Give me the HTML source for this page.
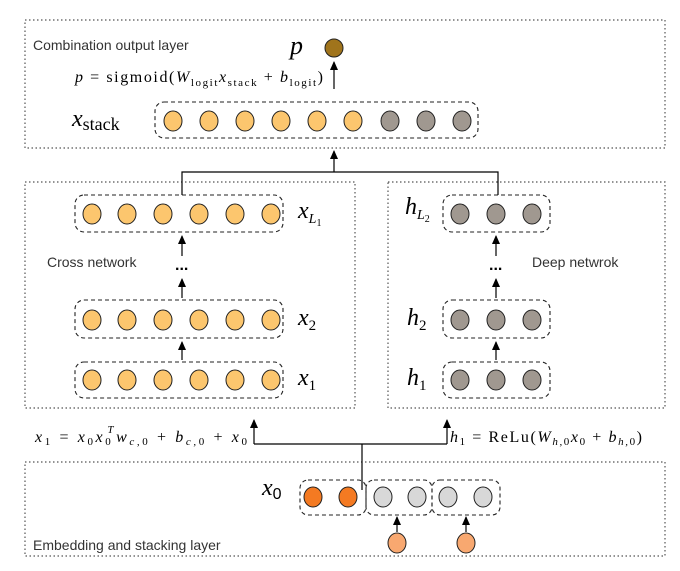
<!DOCTYPE html>
<html><head><meta charset="utf-8"><style>
body{margin:0;background:#fff;}
svg text{font-family:"Liberation Sans",sans-serif;}
.m{font-family:"Liberation Serif",serif;font-style:italic;}
.r{font-family:"Liberation Serif",serif;}
</style></head><body>
<svg width="680" height="566" viewBox="0 0 680 566" xmlns="http://www.w3.org/2000/svg">
<defs><marker id="a" markerWidth="9" markerHeight="8" refX="8" refY="4" orient="auto" markerUnits="userSpaceOnUse"><path d="M0,0 L9,4 L0,8 Z" fill="#000"/></marker></defs>
<g fill="none" stroke="#555" stroke-width="1.2" stroke-dasharray="1.5,2.5">
<rect x="25" y="20" width="640" height="128"/>
<rect x="25" y="182" width="330" height="226"/>
<rect x="388" y="182" width="277" height="226"/>
<rect x="25" y="462" width="640" height="94"/>
</g>
<g fill="none" stroke="#222" stroke-width="1.1" stroke-dasharray="4,3">
<rect x="155" y="102" width="323" height="36" rx="9"/>
<rect x="75" y="195" width="208" height="37" rx="9"/>
<rect x="75" y="300" width="208" height="38" rx="9"/>
<rect x="75" y="362" width="208" height="36" rx="9"/>
<rect x="443" y="195" width="107" height="37" rx="9"/>
<rect x="443" y="300" width="107" height="38" rx="9"/>
<rect x="443" y="362" width="107" height="36" rx="9"/>
<rect x="300" y="480" width="66" height="35" rx="8"/>
<rect x="366" y="480" width="66" height="35" rx="8"/>
<rect x="432" y="480" width="68" height="35" rx="8"/>
</g>
<g stroke="#222" stroke-width="1">
<circle cx="334" cy="48" r="9" fill="#a0741c"/>
<g fill="#fcc66e"><ellipse cx="173" cy="121" rx="9" ry="10"/><ellipse cx="209" cy="121" rx="9" ry="10"/><ellipse cx="245" cy="121" rx="9" ry="10"/><ellipse cx="281" cy="121" rx="9" ry="10"/><ellipse cx="317" cy="121" rx="9" ry="10"/><ellipse cx="353" cy="121" rx="9" ry="10"/></g>
<g fill="#a09890"><ellipse cx="390" cy="121" rx="9" ry="10"/><ellipse cx="426" cy="121" rx="9" ry="10"/><ellipse cx="462" cy="121" rx="9" ry="10"/></g>
<g fill="#fcc66e">
<ellipse cx="92" cy="214" rx="9" ry="10"/><ellipse cx="127" cy="214" rx="9" ry="10"/><ellipse cx="163" cy="214" rx="9" ry="10"/><ellipse cx="199" cy="214" rx="9" ry="10"/><ellipse cx="235" cy="214" rx="9" ry="10"/><ellipse cx="271" cy="214" rx="9" ry="10"/>
<ellipse cx="92" cy="320" rx="9" ry="10"/><ellipse cx="127" cy="320" rx="9" ry="10"/><ellipse cx="163" cy="320" rx="9" ry="10"/><ellipse cx="199" cy="320" rx="9" ry="10"/><ellipse cx="235" cy="320" rx="9" ry="10"/><ellipse cx="271" cy="320" rx="9" ry="10"/>
<ellipse cx="92" cy="380" rx="9" ry="10"/><ellipse cx="127" cy="380" rx="9" ry="10"/><ellipse cx="163" cy="380" rx="9" ry="10"/><ellipse cx="199" cy="380" rx="9" ry="10"/><ellipse cx="235" cy="380" rx="9" ry="10"/><ellipse cx="271" cy="380" rx="9" ry="10"/>
</g>
<g fill="#a09890">
<ellipse cx="460" cy="214" rx="9" ry="10"/><ellipse cx="496" cy="214" rx="9" ry="10"/><ellipse cx="532" cy="214" rx="9" ry="10"/>
<ellipse cx="460" cy="320" rx="9" ry="10"/><ellipse cx="496" cy="320" rx="9" ry="10"/><ellipse cx="532" cy="320" rx="9" ry="10"/>
<ellipse cx="460" cy="380" rx="9" ry="10"/><ellipse cx="496" cy="380" rx="9" ry="10"/><ellipse cx="532" cy="380" rx="9" ry="10"/>
</g>
<g fill="#f47a22"><ellipse cx="313" cy="497" rx="9" ry="10"/><ellipse cx="348" cy="497" rx="9" ry="10"/></g>
<g fill="#d8d8d8"><ellipse cx="383" cy="497" rx="9" ry="10"/><ellipse cx="417" cy="497" rx="9" ry="10"/><ellipse cx="448" cy="497" rx="9" ry="10"/><ellipse cx="483" cy="497" rx="9" ry="10"/></g>
<g fill="#f8a870"><ellipse cx="397" cy="543" rx="9" ry="10"/><ellipse cx="466" cy="543" rx="9" ry="10"/></g>
</g>
<g stroke="#000" stroke-width="1.2" fill="none">
<line x1="334" y1="89" x2="334" y2="62" marker-end="url(#a)"/>
<line x1="334" y1="172" x2="334" y2="151" marker-end="url(#a)"/>
<polyline points="182,195 182,172 498,172 498,195"/>
<line x1="182" y1="256" x2="182" y2="236" marker-end="url(#a)"/>
<line x1="182" y1="298" x2="182" y2="279" marker-end="url(#a)"/>
<line x1="182" y1="360" x2="182" y2="342" marker-end="url(#a)"/>
<line x1="496" y1="256" x2="496" y2="236" marker-end="url(#a)"/>
<line x1="496" y1="298" x2="496" y2="279" marker-end="url(#a)"/>
<line x1="496" y1="360" x2="496" y2="342" marker-end="url(#a)"/>
<polyline points="254,444 447,444"/>
<line x1="254" y1="444" x2="254" y2="420" marker-end="url(#a)"/>
<line x1="447" y1="444" x2="447" y2="420" marker-end="url(#a)"/>
<line x1="362" y1="444" x2="362" y2="490"/>
<line x1="397" y1="532" x2="397" y2="517" marker-end="url(#a)"/>
<line x1="466" y1="532" x2="466" y2="517" marker-end="url(#a)"/>
</g>
<g fill="#333" font-size="14">
<text x="33" y="50">Combination output layer</text>
<text x="47" y="267">Cross network</text>
<text x="532" y="267">Deep netwrok</text>
<text x="33" y="550">Embedding and stacking layer</text>
</g>
<g fill="#000">
<text class="m" x="290" y="54" font-size="26">p</text>
<text class="r" x="75" y="82" font-size="16" textLength="248" lengthAdjust="spacing"><tspan class="m">p</tspan> = sigmoid(<tspan class="m">W</tspan><tspan font-size="11" dy="4">logit</tspan><tspan class="m" dy="-4">x</tspan><tspan font-size="11" dy="4">stack</tspan><tspan dy="-4"> + </tspan><tspan class="m">b</tspan><tspan font-size="11" dy="4">logit</tspan><tspan dy="-4">)</tspan></text>
<text x="72" y="126" font-size="24"><tspan class="m">x</tspan><tspan class="r" font-size="18" dy="4">stack</tspan></text>
<text x="298" y="218" font-size="24"><tspan class="m">x</tspan><tspan class="m" font-size="14" dy="5">L</tspan><tspan class="r" font-size="10" dy="3">1</tspan></text>
<text x="298" y="325" font-size="24"><tspan class="m">x</tspan><tspan class="r" font-size="15" dy="5">2</tspan></text>
<text x="298" y="385" font-size="24"><tspan class="m">x</tspan><tspan class="r" font-size="15" dy="5">1</tspan></text>
<text x="405" y="214" font-size="24"><tspan class="m">h</tspan><tspan class="m" font-size="14" dy="5">L</tspan><tspan class="r" font-size="10" dy="3">2</tspan></text>
<text x="407" y="325" font-size="24"><tspan class="m">h</tspan><tspan class="r" font-size="15" dy="5">2</tspan></text>
<text x="407" y="385" font-size="24"><tspan class="m">h</tspan><tspan class="r" font-size="15" dy="5">1</tspan></text>
<text x="175" y="270" font-size="16" font-weight="bold">...</text>
<text x="489" y="270" font-size="16" font-weight="bold">...</text>
<text x="262" y="495" font-size="24"><tspan class="m">x</tspan><tspan font-size="16" dy="4">0</tspan></text>
<text class="r" x="35" y="442" font-size="16" textLength="212" lengthAdjust="spacing"><tspan class="m">x</tspan><tspan font-size="11" dy="3">1</tspan><tspan dy="-3"> = </tspan><tspan class="m">x</tspan><tspan font-size="11" dy="3">0</tspan><tspan class="m" dy="-3">x</tspan><tspan font-size="11" dy="3">0</tspan><tspan class="m" font-size="11" dx="-6" dy="-12">T</tspan><tspan class="m" dy="9">w</tspan><tspan class="m" font-size="11" dy="3">c,</tspan><tspan font-size="11">0</tspan><tspan dy="-3"> + </tspan><tspan class="m">b</tspan><tspan class="m" font-size="11" dy="3">c,</tspan><tspan font-size="11">0</tspan><tspan dy="-3"> + </tspan><tspan class="m">x</tspan><tspan font-size="11" dy="3">0</tspan></text>
<text class="r" x="450" y="442" font-size="16" textLength="192" lengthAdjust="spacing"><tspan class="m">h</tspan><tspan font-size="11" dy="3">1</tspan><tspan dy="-3"> = ReLu(</tspan><tspan class="m">W</tspan><tspan class="m" font-size="11" dy="3">h,</tspan><tspan font-size="11">0</tspan><tspan class="m" dy="-3">x</tspan><tspan font-size="11" dy="3">0</tspan><tspan dy="-3"> + </tspan><tspan class="m">b</tspan><tspan class="m" font-size="11" dy="3">h,</tspan><tspan font-size="11">0</tspan><tspan dy="-3">)</tspan></text>
</g>
</svg>
</body></html>
